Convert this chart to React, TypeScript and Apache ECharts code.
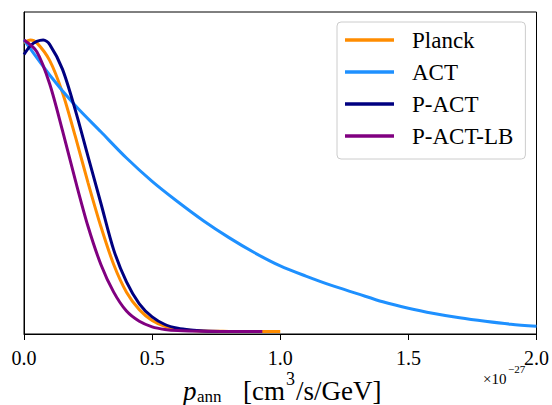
import React, { useEffect, useRef } from "react";
import * as echarts from "echarts";

const seriesNames = ["Planck", "ACT", "P-ACT", "P-ACT-LB"];
const seriesColors = ["#ff8c00", "#1e90ff", "#000080", "#800080"];

const planckX = [0, 0.025, 0.05, 0.1, 0.15, 0.2, 0.25, 0.3, 0.35, 0.4, 0.45, 0.5, 0.55, 0.6, 0.7, 0.8, 0.9, 1.0];
const planckY = [0.99, 1.0, 0.99, 0.93, 0.82, 0.67, 0.51, 0.36, 0.23, 0.135, 0.075, 0.038, 0.018, 0.008, 0.0015, 0.0003, 0, 0];

const actX = [0, 0.1, 0.2, 0.3, 0.4, 0.5, 0.6, 0.7, 0.8, 0.9, 1.0, 1.1, 1.2, 1.3, 1.4, 1.5, 1.6, 1.7, 1.8, 1.9, 2.0];
const actY = [1.0, 0.88, 0.775, 0.685, 0.595, 0.515, 0.445, 0.38, 0.322, 0.27, 0.225, 0.19, 0.158, 0.13, 0.102, 0.08, 0.062, 0.047, 0.035, 0.025, 0.018];

const pactX = [0, 0.025, 0.05, 0.075, 0.1, 0.15, 0.2, 0.25, 0.3, 0.35, 0.4, 0.45, 0.5, 0.55, 0.6, 0.65, 0.7, 0.8, 0.9];
const pactY = [0.95, 0.98, 0.995, 1.0, 0.985, 0.9, 0.76, 0.6, 0.44, 0.28, 0.17, 0.095, 0.05, 0.024, 0.011, 0.005, 0.002, 0.0003, 0];

const pactlbX = [0, 0.05, 0.1, 0.15, 0.2, 0.25, 0.3, 0.35, 0.4, 0.45, 0.5, 0.55, 0.6, 0.7, 0.8, 0.93];
const pactlbY = [1.0, 0.96, 0.85, 0.69, 0.52, 0.36, 0.23, 0.135, 0.07, 0.035, 0.016, 0.007, 0.003, 0.0005, 0, 0];

const xTickValues = [0, 0.5, 1.0, 1.5, 2.0];

const seriesXs = [planckX, actX, pactX, pactlbX];
const seriesYs = [planckY, actY, pactY, pactlbY];

const SERIF = "'Liberation Serif', 'Times New Roman', serif";

export default function App() {
  const ref = useRef<HTMLDivElement>(null);
  useEffect(() => {
    if (!ref.current) return;
    const chart = echarts.init(ref.current, undefined, { renderer: "svg" });
    const series = seriesNames.map((name, k) => ({
      name,
      type: "line",
      data: seriesXs[k].map((x, i) => [x, seriesYs[k][i]]),
      showSymbol: false,
      symbol: "none",
      smooth: 0.3,
      lineStyle: { color: seriesColors[k], width: 3 },
      itemStyle: { color: seriesColors[k] },
      z: 2 + k,
    }));
    chart.setOption({
      animation: false,
      backgroundColor: "#ffffff",
      grid: {
        left: 24,
        right: 13,
        top: 12,
        bottom: 71,
        show: true,
        borderColor: "#000",
        borderWidth: 1,
        backgroundColor: "transparent",
      },
      xAxis: {
        type: "value",
        min: xTickValues[0],
        max: xTickValues[xTickValues.length - 1],
        interval: 0.5,
        axisLine: { show: true, onZero: false, lineStyle: { color: "#000", width: 1 } },
        axisTick: { show: true, length: 6, lineStyle: { color: "#000", width: 1 } },
        axisLabel: {
          color: "#000",
          fontFamily: SERIF,
          fontSize: 20,
          lineHeight: 12,
          margin: 18,
          formatter: (v: number) => v.toFixed(1),
        },
        splitLine: { show: false },
      },
      yAxis: {
        type: "value",
        min: -0.0086,
        max: 1.096,
        axisLine: { show: true, onZero: false, lineStyle: { color: "#000", width: 1 } },
        axisTick: { show: false },
        axisLabel: { show: false },
        splitLine: { show: false },
      },
      legend: {
        orient: "vertical",
        left: 337,
        top: 22,
        padding: [5, 12, 10, 8],
        itemWidth: 49,
        itemHeight: 3.5,
        itemGap: 6,
        icon: "rect",
        backgroundColor: "rgba(255,255,255,0.8)",
        borderColor: "#cccccc",
        borderWidth: 1,
        borderRadius: 4,
        data: seriesNames,
        textStyle: {
          fontFamily: SERIF,
          fontSize: 23,
          color: "#000",
          lineHeight: 26,
          padding: [0, 0, 0, 13],
        },
      },
      graphic: [
        { type: "text", x: 183, y: 391, style: { text: "p", font: `italic 27px ${SERIF}`, fill: "#000", verticalAlign: "middle" } },
        { type: "text", x: 197, y: 396, style: { text: "ann", font: `17px ${SERIF}`, fill: "#000", verticalAlign: "middle" } },
        { type: "text", x: 243, y: 391, style: { text: "[cm", font: `27px ${SERIF}`, fill: "#000", verticalAlign: "middle" } },
        { type: "text", x: 286, y: 379, style: { text: "3", font: `18px ${SERIF}`, fill: "#000", verticalAlign: "middle" } },
        { type: "text", x: 296, y: 391, style: { text: "/s/GeV]", font: `27px ${SERIF}`, fill: "#000", verticalAlign: "middle" } },
        { type: "text", x: 483, y: 379, style: { text: "×10", font: `15px ${SERIF}`, fill: "#000", verticalAlign: "middle" } },
        { type: "text", x: 508, y: 369, style: { text: "−27", font: `11px ${SERIF}`, fill: "#000", verticalAlign: "middle" } },
      ],
      series,
    });
    return () => chart.dispose();
  }, []);
  return (
    <div
      ref={ref}
      style={{ position: "fixed", left: 0, top: 0, width: 552, height: 405, background: "#fff" }}
    />
  );
}
